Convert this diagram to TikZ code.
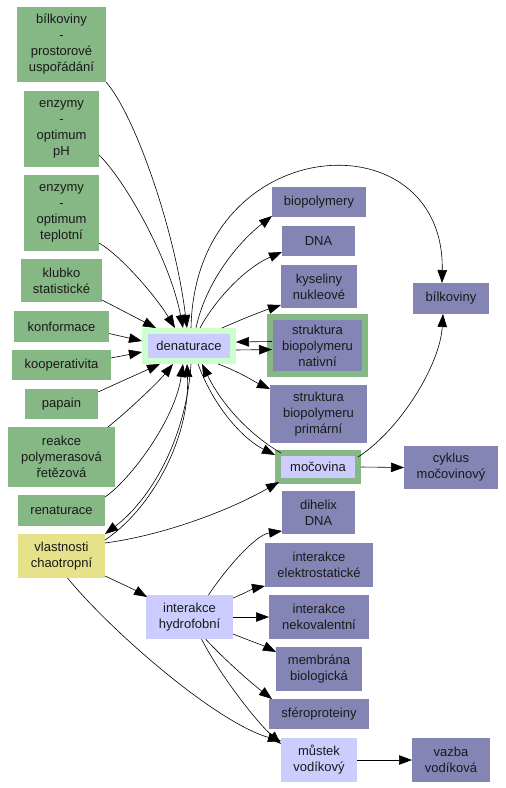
\documentclass[tikz,border=0pt]{standalone}
\usepackage{fontspec}
\setmainfont{Liberation Sans}
\usetikzlibrary{arrows.meta,calc}
\definecolor{gbox}{HTML}{86B886}
\definecolor{pbox}{HTML}{8585B5}
\definecolor{lavc}{HTML}{CCCCFF}
\definecolor{lgrn}{HTML}{CCFFCC}
\definecolor{ybox}{HTML}{E6E28A}
\begin{document}
\begin{tikzpicture}[x=1pt,y=-1pt,
  box/.style={rectangle,inner sep=0pt,outer sep=0pt,align=center,font=\fontsize{13}{16}\selectfont,text=black!90},
  gr/.style={box,fill=gbox},
  pu/.style={box,fill=pbox},
  lav/.style={box,fill=lavc},
  dbl/.style={box,line width=6pt,outer sep=3pt},
  arr/.style={-{Triangle[length=13pt,width=9.5pt]},line width=0.6pt,black},
  ]
\useasboundingbox (0,0) rectangle (506,788);
% left column
\node[gr,minimum width=89pt,minimum height=75pt] (bp) at (61.5,44.5) {bílkoviny\\-\\prostorové\\uspořádání};
\node[gr,minimum width=75pt,minimum height=76pt] (eph) at (61.5,129) {enzymy\\-\\optimum\\pH};
\node[gr,minimum width=75pt,minimum height=76pt] (ete) at (61.5,213) {enzymy\\-\\optimum\\teplotní};
\node[gr,minimum width=81pt,minimum height=43pt] (klubko) at (61.5,280.5) {klubko\\statistické};
\node[gr,minimum width=95pt,minimum height=31pt] (konf) at (61.5,326.5) {konformace};
\node[gr,minimum width=99pt,minimum height=30pt] (koop) at (61.5,365) {kooperativita};
\node[gr,minimum width=73pt,minimum height=30pt] (papain) at (61.5,404) {papain};
\node[gr,minimum width=107pt,minimum height=60pt] (pcr) at (61.5,457) {reakce\\polymerasová\\řetězová};
\node[gr,minimum width=87pt,minimum height=31pt] (renat) at (61.5,510.5) {renaturace};
\node[box,fill=ybox,minimum width=87pt,minimum height=44pt] (chao) at (61.5,556) {vlastnosti\\chaotropní};
% centre
\node[dbl,fill=lavc,draw=lgrn,minimum width=88pt,minimum height=30pt] (den) at (189,346) {denaturace};
\node[lav,minimum width=87pt,minimum height=44pt] (hyd) at (189.5,617) {interakce\\hydrofobní};
% right column
\node[pu,minimum width=94pt,minimum height=30pt] (biopol) at (319,202) {biopolymery};
\node[pu,minimum width=73pt,minimum height=30pt] (dna) at (318.5,241) {DNA};
\node[pu,minimum width=76pt,minimum height=43pt] (kys) at (319,286.5) {kyseliny\\nukleové};
\node[dbl,fill=pbox,draw=gbox,minimum width=95pt,minimum height=57pt] (nat) at (317.5,345.5) {struktura\\biopolymeru\\nativní};
\node[pu,minimum width=97pt,minimum height=58pt] (prim) at (318.5,414) {struktura\\biopolymeru\\primární};
\node[pu,minimum width=76pt,minimum height=31pt] (bilk) at (451,298.5) {bílkoviny};
\node[dbl,fill=lavc,draw=gbox,minimum width=80pt,minimum height=28pt] (moc) at (318,467) {močovina};
\node[pu,minimum width=94pt,minimum height=43pt] (cyk) at (451,467.5) {cyklus\\močovinový};
\node[pu,minimum width=73pt,minimum height=43pt] (dih) at (318.5,512.5) {dihelix\\DNA};
\node[pu,minimum width=108pt,minimum height=44pt] (elek) at (319,565) {interakce\\elektrostatické};
\node[pu,minimum width=100pt,minimum height=44pt] (nek) at (319,617) {interakce\\nekovalentní};
\node[pu,minimum width=86pt,minimum height=44pt] (mem) at (319,669) {membrána\\biologická};
\node[pu,minimum width=100pt,minimum height=30pt] (sfer) at (319,714) {sféroproteiny};
\node[lav,minimum width=76pt,minimum height=44pt] (mus) at (319,760) {můstek\\vodíkový};
\node[pu,minimum width=78pt,minimum height=44pt] (vaz) at (451,760) {vazba\\vodíková};
% into denaturace
\draw[arr] (bp.south east) .. controls (135,115) and (175,230) .. ($(den.north)+(-2,0)$);
\draw[arr] ($(eph.east)+(0,26)$) .. controls (125,180) and (170,260) .. ($(den.north)+(-6,0)$);
\draw[arr] ($(ete.east)+(0,30)$) .. controls (120,255) and (155,295) .. ($(den.north)+(-14,0)$);
\draw[arr] ($(klubko.south east)+(0,-2)$) -- ($(den.north west)+(14,0)$);
\draw[arr] ($(konf.east)+(0,7)$) -- ($(den.west)+(0,-5)$);
\draw[arr] ($(koop.east)+(0,-7)$) -- ($(den.west)+(0,6)$);
\draw[arr] ($(papain.north east)+(0,3)$) -- ($(den.south west)+(18,0)$);
\draw[arr] ($(pcr.north east)+(-7,0)$) .. controls (135,405) and (160,380) .. ($(den.south)+(-16,0)$);
\draw[arr] ($(renat.north east)+(0,2)$) .. controls (130,480) and (175,420) .. ($(den.south)+(-6,0)$);
\draw[arr] ($(chao.east)+(0,-16)$) .. controls (150,510) and (190,440) .. ($(den.south)+(-2,0)$);
\draw[arr] ($(den.south)+(2,0)$) .. controls (186,440) and (150,500) .. (chao.north east);
% out of denaturace
\draw[arr] ($(den.north)+(7,0)$) .. controls (205,285) and (235,245) .. ($(biopol.south west)+(0,-1)$);
\draw[arr] ($(den.north)+(11,0)$) .. controls (215,300) and (245,268) .. ($(dna.south west)+(0,-4)$);
\draw[arr] ($(den.north east)+(-14,0)$) .. controls (240,320) and (260,312) .. ($(kys.south west)+(0,-3)$);
\draw[arr] ($(den.north)+(2,0)$) .. controls (195,130) and (445,115) .. ($(bilk.north)+(-9,0)$);
\draw[arr] ($(den.east)+(0,4)$) -- ($(nat.west)+(5,4)$);
\draw[arr] ($(nat.west)+(5,-4)$) -- ($(den.east)+(0,-4)$);
\draw[arr] ($(den.south east)+(-18,0)$) .. controls (240,372) and (255,382) .. ($(prim.west)+(0,-25)$);
\draw[arr] ($(den.south)+(9,0)$) .. controls (215,410) and (245,440) .. ($(moc.west)+(0,-12)$);
\draw[arr] ($(moc.north west)+(6,3)$) .. controls (250,435) and (222,405) .. ($(den.south)+(13,0)$);
% močovina
\draw[arr] ($(chao.east)+(0,-13)$) .. controls (165,535) and (230,510) .. ($(moc.south west)+(4,-2)$);
\draw[arr] ($(moc.north east)+(-3,7)$) .. controls (400,430) and (440,365) .. ($(bilk.south)+(-8,0)$);
\draw[arr] (moc.east) -- (cyk.west);
% chaotropní / hydrofobní
\draw[arr] ($(chao.south east)+(0,-2)$) .. controls (120,583) and (135,590) .. ($(hyd.north west)+(1,2)$);
\draw[arr] ($(chao.south)+(6,0)$) .. controls (110,630) and (215,722) .. ($(mus.north west)+(0,3)$);
\draw[arr] ($(hyd.north)+(19,0)$) .. controls (225,570) and (255,535) .. ($(dih.south west)+(0,-3)$);
\draw[arr] ($(hyd.north east)+(0,3)$) .. controls (245,593) and (255,588) .. ($(elek.south west)+(0,-1)$);
\draw[arr] (hyd.east) -- (nek.west);
\draw[arr] ($(hyd.south east)+(0,-5)$) .. controls (248,640) and (262,645) .. ($(mem.west)+(0,-17)$);
\draw[arr] ($(hyd.south)+(16,0)$) .. controls (225,660) and (250,682) .. ($(sfer.north west)+(3,0)$);
\draw[arr] ($(hyd.south)+(12,0)$) .. controls (220,675) and (255,720) .. ($(mus.north west)+(0,6)$);
\draw[arr] (mus.east) -- (vaz.west);
\end{tikzpicture}
\end{document}
